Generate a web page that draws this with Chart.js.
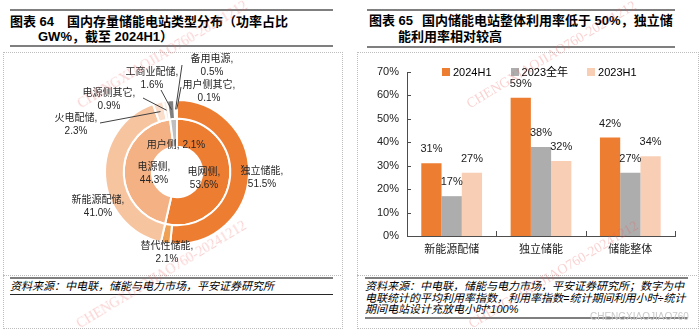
<!DOCTYPE html>
<html>
<head>
<meta charset="utf-8">
<script src="https://cdn.jsdelivr.net/npm/chart.js@4.4.1/dist/chart.umd.min.js"></script>
<style>
  body { margin: 0; background: #fff; }
  #page { position: relative; width: 700px; height: 330px; overflow: hidden; font-family: "Liberation Sans", "Noto Sans CJK SC", sans-serif; color: #000; }
  .abs { position: absolute; white-space: nowrap; }
  .title { font-size: 13px; font-weight: bold; line-height: 16px; }
  .rule { position: absolute; height: 2px; background: #7f7f7f; }
  .thin { position: absolute; height: 1px; background: #262626; }
  .src { font-size: 11px; font-style: italic; line-height: 11.5px; }
  .box { position: absolute; border: 1px dotted #bdbdbd; }
  .hdot { position: absolute; height: 0; border-top: 1px dotted #bdbdbd; }
  .wm { position: absolute; font-family: "Liberation Serif", serif; font-size: 14px; color: rgba(236, 90, 90, 0.28); transform-origin: 0 100%; transform: rotate(-31deg); white-space: nowrap; }
  #legend { position: absolute; left: 442px; top: 65px; display: flex; font-size: 11px; line-height: 14px; }
  #legend .item { display: flex; align-items: center; margin-right: 19px; }
  #legend .sw { width: 8px; height: 8px; margin-right: 3px; }
  canvas { position: absolute; }
</style>
</head>
<body>
<div id="page">
  <!-- panel frames -->
  <div class="box" style="left:3px; top:52px; width:338px; height:275px;"></div>
  <div class="box" style="left:357px; top:52px; width:340px; height:275px;"></div>
  <div class="hdot" style="left:3px; top:275px; width:338px;"></div>
  <div class="hdot" style="left:357px; top:275px; width:340px;"></div>

  <!-- left title -->
  <div class="rule" style="left:10px; top:9px; width:323px;"></div>
  <div class="abs title" style="left:10px; top:14px;">图表 64</div>
  <div class="abs title" style="left:67px; top:14px;">国内存量储能电站类型分布（功率占比</div>
  <div class="abs title" style="left:38px; top:29px;">GW%，截至 2024H1）</div>
  <div class="rule" style="left:10px; top:45px; width:323px;"></div>

  <!-- right title -->
  <div class="rule" style="left:367px; top:9px; width:308px;"></div>
  <div class="abs title" style="left:369px; top:13px;">图表 65</div>
  <div class="abs title" style="left:422px; top:13px;">国内储能电站整体利用率低于 50%，独立储</div>
  <div class="abs title" style="left:398px; top:29px;">能利用率相对较高</div>
  <div class="rule" style="left:367px; top:46px; width:308px;"></div>

  <canvas id="mix" width="335" height="224" style="left:5px; top:50px;"></canvas>
  <canvas id="rate" width="338" height="218" style="left:357px; top:56px;"></canvas>
  <div id="legend"></div>

  <!-- sources -->
  <div class="rule" style="left:10px; top:277px; width:323px;"></div>
  <div class="abs src" style="left:10px; top:281px;">资料来源：中电联，储能与电力市场，平安证券研究所</div>
  <div class="thin" style="left:10px; top:294px; width:323px;"></div>

  <div class="rule" style="left:365px; top:277px; width:323px;"></div>
  <div class="abs src" style="left:365px; top:281px;">资料来源：中电联，储能与电力市场，平安证券研究所；数字为中<br>电联统计的平均利用率指数，利用率指数=统计期间利用小时÷统计<br>期间电站设计充放电小时*100%</div>
  <div class="rule" style="left:365px; top:317px; width:323px;"></div>

  <!-- watermarks -->
  <div class="wm" style="left:83px; top:96px;">CHENGXIAOJIAO760-20241212</div>
  <div class="wm" style="left:82px; top:316px;">CHENGXIAOJIAO760-20241212</div>
  <div class="wm" style="left:472px; top:96px;">CHENGXIAOJIAO760-20241212</div>
  <div class="wm" style="left:474px; top:316px;">CHENGXIAOJIAO760-20241212</div>
  <div class="abs" style="left:590px; top:311px; font-size:10px; color:#c9c9c9;">CHENGXIAOJIAO760</div>
</div>

<script>
// station mix, share of power (%)
const outerNames = ['独立储能', '替代性储能', '新能源配储', '火电配储', '电源侧其它', '工商业配储', '备用电源', '用户侧其它'];
const outerShare = [51.5, 2.1, 41.0, 2.3, 0.9, 1.6, 0.5, 0.1];
const innerNames = ['电网侧', '电源侧', '用户侧'];
const innerShare = [53.6, 44.3, 2.1];

// utilisation index (%)
const categories = ['新能源配储', '独立储能', '储能整体'];
const seriesNames = ['2024H1', '2023全年', '2023H1'];
const rate2024H1 = [31, 59, 42];
const rate2023 = [17, 38, 27];
const rate2023H1 = [27, 32, 34];

const outerColors = ['#ED7D31', '#F0A052', '#F7C4A0', '#FADDCA', '#FCEDE3', '#7F7F7F', '#A6A6A6', '#C9C9C9'];
const innerColors = ['#ED7D31', '#F4B183', '#BFBFBF'];
const barColors = ['#ED7D31', '#ADADAD', '#F8CFB4'];
const axisColor = '#4d4d4d';
const cjk = '"Liberation Sans", "Noto Sans CJK SC", sans-serif';

// label placement, relative to the doughnut centre; lead = start of leader line
const outerPos = [
  {dx: 85, dy: 6},
  {dx: -10, dy: 81},
  {dx: -79, dy: 35},
  {dx: -101, dy: -47, lead: [-77, -49]},
  {dx: -68, dy: -72, lead: [-34, -74]},
  {dx: -25, dy: -93, lead: [-16, -82]},
  {dx: 35, dy: -106, lead: [5, -107]},
  {dx: 32, dy: -80, lead: [4, -85]}
];
const innerPos = [
  {dx: 27, dy: 7},
  {dx: -23, dy: 2},
  {dx: -1, dy: -27, oneLine: true}
];

const donutLabels = {
  id: 'donutLabels',
  afterDatasetsDraw(chart) {
    const ctx = chart.ctx;
    ctx.save();
    ctx.font = '10px ' + cjk;
    ctx.fillStyle = '#262626';
    ctx.textAlign = 'center';
    ctx.textBaseline = 'middle';
    ctx.strokeStyle = '#404040';
    ctx.lineWidth = 1;
    const rings = [[outerNames, outerShare, outerPos], [innerNames, innerShare, innerPos]];
    rings.forEach(([names, vals, pos], di) => {
      chart.getDatasetMeta(di).data.forEach((arc, i) => {
        const p = pos[i];
        const cx = arc.x, cy = arc.y;
        if (p.lead) {
          const mid = (arc.startAngle + arc.endAngle) / 2;
          const r = (arc.innerRadius + arc.outerRadius) / 2;
          ctx.beginPath();
          ctx.moveTo(cx + p.lead[0], cy + p.lead[1]);
          ctx.lineTo(cx + Math.cos(mid) * r, cy + Math.sin(mid) * r);
          ctx.stroke();
        }
        const v = vals[i].toFixed(1) + '%';
        if (p.oneLine) {
          ctx.fillText(names[i] + ', ' + v, cx + p.dx, cy + p.dy);
        } else {
          ctx.fillText(names[i] + ',', cx + p.dx, cy + p.dy - 6.5);
          ctx.fillText(v, cx + p.dx, cy + p.dy + 6.5);
        }
      });
    });
    ctx.restore();
  }
};

new Chart(document.getElementById('mix'), {
  type: 'doughnut',
  data: {
    labels: outerNames,
    datasets: [
      {data: outerShare, backgroundColor: outerColors, borderColor: '#fff', borderWidth: 2, weight: 2},
      {data: innerShare, backgroundColor: innerColors, borderColor: '#fff', borderWidth: 2, weight: 3}
    ]
  },
  options: {
    responsive: false,
    animation: false,
    events: [],
    cutout: '35%',
    hoverOffset: 0,
    layout: {padding: {left: 99, right: 90, top: 49, bottom: 29}},
    plugins: {legend: {display: false}, tooltip: {enabled: false}}
  },
  plugins: [donutLabels]
});

const barExtras = {
  id: 'barExtras',
  afterDatasetsDraw(chart) {
    const ctx = chart.ctx;
    const {left, right, bottom} = chart.chartArea;
    const y = chart.scales.y;
    ctx.save();
    ctx.font = '11px "Liberation Sans", sans-serif';
    ctx.fillStyle = '#1a1a1a';
    ctx.textAlign = 'center';
    ctx.textBaseline = 'middle';
    chart.data.datasets.forEach((ds, di) => {
      chart.getDatasetMeta(di).data.forEach((bar, i) => {
        ctx.fillText(ds.data[i] + '%', bar.x, bar.y - 14);
      });
    });
    // small inward ticks on both axes
    ctx.strokeStyle = axisColor;
    ctx.lineWidth = 1;
    ctx.beginPath();
    y.ticks.forEach(t => {
      const py = Math.round(y.getPixelForValue(t.value)) + 0.5;
      ctx.moveTo(left, py);
      ctx.lineTo(left + 4, py);
    });
    for (let i = 0; i <= categories.length; i++) {
      const px = Math.round(left + (right - left) * i / categories.length) + 0.5;
      ctx.moveTo(px, bottom);
      ctx.lineTo(px, bottom - 5);
    }
    ctx.stroke();
    ctx.restore();
  }
};

const rateSeries = [rate2024H1, rate2023, rate2023H1];

new Chart(document.getElementById('rate'), {
  type: 'bar',
  data: {
    labels: categories,
    datasets: rateSeries.map((d, i) => ({
      label: seriesNames[i],
      data: d,
      backgroundColor: barColors[i],
      categoryPercentage: 0.68,
      barPercentage: 1
    }))
  },
  options: {
    responsive: false,
    animation: false,
    events: [],
    layout: {padding: {left: 0, right: 20, top: 16, bottom: 0}},
    scales: {
      y: {
        min: 0,
        max: 70,
        ticks: {stepSize: 10, padding: 8, color: '#222', font: {size: 11, family: '"Liberation Sans", sans-serif'}, callback: v => v + '%'},
        grid: {display: false, drawTicks: false},
        border: {display: true, color: axisColor, width: 1},
        afterFit(scale) { scale.width = 50; }
      },
      x: {
        ticks: {padding: 7, color: '#222', font: {size: 11, family: cjk}},
        grid: {display: false, drawTicks: false},
        border: {display: true, color: axisColor, width: 1},
        afterFit(scale) { scale.height = 38; }
      }
    },
    plugins: {legend: {display: false}, tooltip: {enabled: false}}
  },
  plugins: [barExtras]
});

// legend
const legend = document.getElementById('legend');
seriesNames.forEach((name, i) => {
  const item = document.createElement('div');
  item.className = 'item';
  const sw = document.createElement('span');
  sw.className = 'sw';
  sw.style.background = barColors[i];
  const tx = document.createElement('span');
  tx.textContent = name;
  item.appendChild(sw);
  item.appendChild(tx);
  legend.appendChild(item);
});
</script>
</body>
</html>
